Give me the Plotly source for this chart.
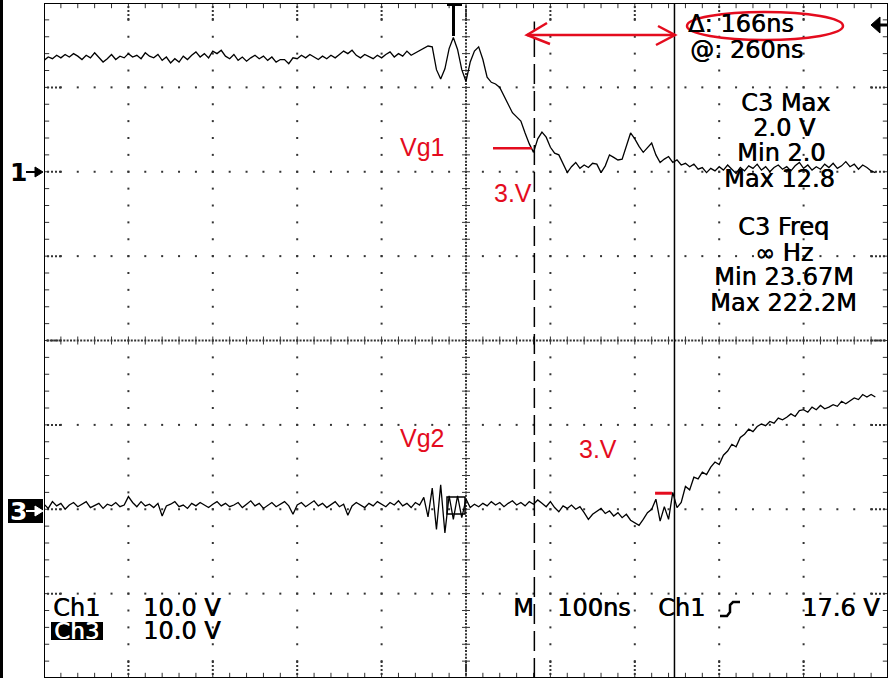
import plotly.graph_objects as go

# screenshot size and where the scope graticule sits in it (pixels)
W, H = 892, 678
GX0, GX1 = 44, 888
GY0, GY1 = 3, 678

# 10 x 8 divisions, 100 ns/div, 10 V/div on both channels
NS_PER_DIV = 100
V_PER_DIV = 10
CH1_ZERO_DIV = 2
CH3_ZERO_DIV = -2

TIME_NS = list(range(0, 990, 5))

CH1_V = [
    13.2, 13.6, 13.4, 13.8, 13.5, 13.9, 13.6, 14.0, 13.7, 13.3,
    13.8, 13.5, 14.1, 13.6, 13.0, 13.4, 13.9, 13.3, 13.7, 13.5,
    14.0, 13.6, 13.8, 13.4, 14.1, 13.7, 13.5, 13.9, 13.2, 13.6,
    12.9, 13.4, 13.0, 13.7, 13.3, 13.8, 14.2, 13.6, 14.0, 13.5,
    14.3, 14.0, 14.4, 13.7, 13.4, 13.9, 13.2, 13.6, 13.1, 13.5,
    13.8, 13.4, 13.7, 13.2, 13.6, 13.0, 13.3, 13.3, 12.8, 13.5,
    13.4, 13.8, 13.5, 13.9, 13.6, 13.3, 13.7, 13.4, 13.8, 13.5,
    13.9, 14.3, 14.0, 14.4, 13.8, 13.5, 13.9, 13.6, 13.4, 13.8,
    13.5, 13.9, 14.2, 13.6, 14.0, 13.7, 14.3, 13.8, 14.1, 14.4,
    14.6, 14.9, 14.8, 12.1, 11.0, 12.2, 14.6, 15.9, 14.5, 12.1,
    10.7, 13.0, 14.3, 14.8, 13.3, 11.2, 10.6, 10.4, 10.0, 9.0,
    8.0, 7.0, 6.5, 6.0, 4.6, 3.3, 2.3, 3.9, 4.7, 4.1,
    2.9, 2.2, 2.0, 1.0, -0.1, 0.6, 1.1, 0.4, 0.8, 0.5,
    1.0, 0.9, -0.1, 0.7, 2.0, 1.7, 1.4, 1.5, 3.0, 4.6,
    3.9, 3.0, 2.3, 2.9, 3.4, 2.0, 1.1, 1.5, 1.8, 1.1,
    1.4, 0.8, 1.0, 0.6, 0.9, 0.3, 0.5, -0.1, 0.4, 0.1,
    0.6, 0.2, 0.8, 0.3, -0.2, 0.5, 0.1, 0.7, 0.4, 0.9,
    0.2, 0.6, 0.0, 0.5, 0.8, 0.3, 0.6, 0.1, 0.7, 1.1,
    0.4, 0.8, 0.2, 0.6, 0.3, 0.9, 0.5, 1.0, 0.4, 0.7,
    1.2, 0.6, 0.9, 0.3, 0.8, 0.5, 0.1, -0.1,
]

CH3_V = [
    0.6, 0.1, 0.9, 0.4, 0.7, 0.0, 0.5, 0.8, 0.3, 0.6,
    0.9, 0.2, 0.5, 0.7, 0.1, 0.6, 0.4, 0.8, 0.3, 0.5,
    1.5, 0.8, 0.3, 0.9, 0.4, 0.6, 0.2, 0.7, -0.8, 0.4,
    0.6, 0.9, 0.3, 0.5, 0.1, 0.7, 0.4, 0.8, 0.5, 0.2,
    0.6, 0.9, 0.4, 0.7, 0.3, 0.5, 0.8, 0.2, 0.6, 1.0,
    0.4, 0.7, 0.1, 0.5, 0.8, 0.3, 0.6, 0.9, 0.4, -0.6,
    0.5, 0.8, 0.3, 0.6, 1.0, 0.4, 0.7, 0.2, 0.5, 0.9,
    0.3, 0.6, -0.7, 0.4, 0.8, 0.5, 0.2, 0.7, 0.4, 0.9,
    0.6, 0.3, 0.8, 0.5, 1.0, 0.4, 0.7, 0.2, 0.8, 0.5,
    1.4, -0.9, 2.5, -2.4, 2.9, -2.8, 1.6, -1.2, 1.6, -1.0,
    1.2, 0.2, 0.6, 0.3, 0.7, 0.4, 0.9, 0.5, 0.8, 0.3,
    0.7, 1.0, 0.5, 0.8, 0.4, 0.9, 0.6, 1.1, 0.7, 0.3,
    0.9, 0.2, -0.3, 0.4, 0.1, 0.5, 0.0, 0.3, -0.4, -1.2,
    -0.6, -0.2, 0.1, -0.5, -0.2, -0.8, -0.4, -1.0, -0.6, -1.3,
    -1.6, -1.9, -1.2, -0.4, 0.0, 1.2, -1.4, 0.3, -1.2, 2.0,
    0.2, 0.8, 2.7, 2.3, 3.8, 3.6, 4.4, 4.1, 5.0, 5.6,
    5.3, 6.4, 6.9, 7.7, 7.4, 8.5, 8.9, 9.5, 9.2, 9.8,
    10.1, 9.9, 10.4, 10.2, 10.8, 10.6, 10.9, 11.3, 11.0, 11.7,
    11.8, 11.5, 12.1, 11.8, 12.3, 11.9, 12.1, 12.4, 12.2, 12.8,
    12.5, 12.9, 13.2, 13.0, 13.6, 13.3, 13.6, 13.3,
]

CURSOR_A_NS = 581
CURSOR_B_NS = 747
MARK_CH1_V, MARK_CH1_NS = 2.8, (532, 578)
MARK_CH3_V, MARK_CH3_NS = 1.9, (724, 744)

READOUT = [  # text, x px, y px, anchor
    ("Δ: 166ns", 686, 24, "left"),
    ("@: 260ns", 688, 50, "left"),
    ("C3 Max", 785, 103, "center"),
    ("2.0 V", 784, 128, "center"),
    ("Min 2.0", 781, 153, "center"),
    ("Max 12.8", 779, 179, "center"),
    ("C3 Freq", 783, 227, "center"),
    ("∞ Hz", 784, 253, "center"),
    ("Min 23.67M", 784, 277, "center"),
    ("Max 222.2M", 783, 303, "center"),
    ("Ch1", 51, 608, "left"),
    ("10.0 V", 141, 608, "left"),
    ("10.0 V", 141, 631, "left"),
    ("M", 511, 608, "left"),
    ("100ns", 555, 608, "left"),
    ("Ch1", 656, 608, "left"),
    ("17.6 V", 882, 608, "right"),
]
RED_LABELS = [("Vg1", 398, 147), ("3.V", 492, 193), ("Vg2", 398, 438), ("3.V", 577, 449)]
CHANNEL_MARKS = [("1", 172, "black"), ("3", 511, "white")]

RED = "rgb(228,12,30)"
PXNS = (GX1 - GX0) / (10 * NS_PER_DIV)
PXDIV = (GY1 - GY0) / 8


def px(x):
    return x / W


def py(y):
    return 1 - y / H


def path(points):
    return "M " + " L ".join(f"{px(a):.5f} {py(b):.5f}" for a, b in points)


# graticule dots and ticks
dot_x, dot_y = [], []
for i in range(1, 10):
    if i == 5:
        continue
    for k in range(41):
        dot_x.append(i * NS_PER_DIV)
        dot_y.append(-4 + k * 0.2)
for j in range(-3, 4):
    if j == 0:
        continue
    for k in range(51):
        dot_x.append(k * 20)
        dot_y.append(j)
for k in range(251):
    dot_x.append(k * 4)
    dot_y.append(0)
for k in range(201):
    dot_x.append(500)
    dot_y.append(-4 + k * 0.04)
for j in range(-3, 4):
    for d in (4, 8, 12, 16):
        dot_x += [d / PXNS, 1000 - d / PXNS]
        dot_y += [j, j]
for i in range(1, 10):
    for d in (4, 8, 12, 16):
        dot_x += [i * NS_PER_DIV, i * NS_PER_DIV]
        dot_y += [4 - d / PXDIV, -4 + d / PXDIV]

tx, ty = [], []
ex, ey = 4 / PXNS, 4 / PXDIV
for k in range(51):
    x = k * 20
    tx += [x, x, None, x, x, None, x, x, None]
    ty += [-ey, ey, None, 4, 4 - 1.3 * ey, None, -4, -4 + 1.3 * ey, None]
for k in range(41):
    y = -4 + k * 0.2
    tx += [500 - ex, 500 + ex, None, 0, 1.3 * ex, None, 1000, 1000 - 1.3 * ex, None]
    ty += [y, y, None, y, y, None, y, y, None]

fig = go.Figure()
fig.add_trace(go.Scatter(x=dot_x, y=dot_y, mode="markers", hoverinfo="skip",
                         marker=dict(symbol="square", size=2, color="#333333")))
fig.add_trace(go.Scatter(x=tx, y=ty, mode="lines", hoverinfo="skip",
                         line=dict(color="#333333", width=1)))

ch1 = [CH1_ZERO_DIV + v / V_PER_DIV for v in CH1_V]
ch3 = [CH3_ZERO_DIV + v / V_PER_DIV for v in CH3_V]
fig.add_trace(go.Scatter(x=TIME_NS, y=ch1, mode="lines", name="Ch1",
                         line=dict(color="black", width=1.3)))
fig.add_trace(go.Scatter(x=TIME_NS, y=ch3, mode="lines", name="Ch3",
                         line=dict(color="black", width=1.3)))

shapes = [
    # graticule frame, screen edge
    dict(type="rect", xref="x", yref="y", x0=0, x1=1000, y0=-4, y1=4,
         line=dict(color="black", width=2)),
    dict(type="rect", xref="paper", yref="paper", x0=0, x1=px(3), y0=0, y1=1,
         fillcolor="black", line=dict(width=0)),
    # cursors
    dict(type="line", xref="x", yref="y", x0=CURSOR_A_NS, x1=CURSOR_A_NS, y0=-4, y1=3.78,
         line=dict(color="black", width=1.5, dash="20px,7px")),
    dict(type="line", xref="x", yref="y", x0=CURSOR_B_NS, x1=CURSOR_B_NS, y0=-4, y1=4,
         line=dict(color="black", width=1.5)),
    # trigger position T and trigger level arrow
    dict(type="line", xref="paper", yref="paper", x0=px(447), x1=px(462), y0=py(4.5), y1=py(4.5),
         line=dict(color="black", width=3)),
    dict(type="line", xref="paper", yref="paper", x0=px(453.5), x1=px(453.5), y0=py(3), y1=py(36),
         line=dict(color="black", width=3)),
    dict(type="path", xref="paper", yref="paper", path=path([(871, 25), (880, 17), (880, 33)]) + " Z",
         fillcolor="black", line=dict(color="black", width=1)),
    dict(type="line", xref="paper", yref="paper", x0=px(879), x1=px(888), y0=py(25), y1=py(25),
         line=dict(color="black", width=3)),
    # little box the Ch3 glitch leaves on screen
    dict(type="rect", xref="paper", yref="paper", x0=px(447), x1=px(465), y0=py(514), y1=py(497),
         line=dict(color="black", width=1.5)),
    # rising edge symbol
    dict(type="path", xref="paper", yref="paper",
         path=path([(720, 616), (727, 616), (730, 612), (730, 605), (733, 602), (740, 602)]),
         line=dict(color="black", width=2.5)),
    # inverse video boxes
    dict(type="rect", xref="paper", yref="paper", x0=px(8), x1=px(43), y0=py(523), y1=py(499),
         fillcolor="black", line=dict(width=0)),
    dict(type="rect", xref="paper", yref="paper", x0=px(51), x1=px(103), y0=py(640), y1=py(622),
         fillcolor="black", line=dict(width=0)),
    # red markup
    dict(type="line", xref="x", yref="y", x0=MARK_CH1_NS[0], x1=MARK_CH1_NS[1],
         y0=CH1_ZERO_DIV + MARK_CH1_V / V_PER_DIV, y1=CH1_ZERO_DIV + MARK_CH1_V / V_PER_DIV,
         line=dict(color=RED, width=2.5)),
    dict(type="line", xref="x", yref="y", x0=MARK_CH3_NS[0], x1=MARK_CH3_NS[1],
         y0=CH3_ZERO_DIV + MARK_CH3_V / V_PER_DIV, y1=CH3_ZERO_DIV + MARK_CH3_V / V_PER_DIV,
         line=dict(color=RED, width=3)),
    dict(type="path", xref="paper", yref="paper", path=path([(527, 35), (675, 35)]),
         line=dict(color=RED, width=2.5)),
    dict(type="path", xref="paper", yref="paper", path=path([(547, 23), (527, 35), (550, 44)]),
         line=dict(color=RED, width=2.5)),
    dict(type="path", xref="paper", yref="paper", path=path([(658, 26), (675, 35), (656, 45)]),
         line=dict(color=RED, width=2.5)),
    dict(type="circle", xref="paper", yref="paper", x0=px(687), x1=px(843), y0=py(40), y1=py(12),
         line=dict(color=RED, width=2.5)),
]

annotations = []
# channel ground markers: digit plus small arrow
for label, y, colour in CHANNEL_MARKS:
    shapes.append(dict(type="line", xref="paper", yref="paper", x0=px(26), x1=px(37), y0=py(y), y1=py(y),
                       line=dict(color=colour, width=2)))
    shapes.append(dict(type="path", xref="paper", yref="paper",
                       path=path([(35, y - 5), (43, y), (35, y + 5)]) + " Z",
                       fillcolor=colour, line=dict(color=colour, width=1)))
    annotations.append(dict(text=label, x=px(18), y=py(y), xref="paper", yref="paper",
                            xanchor="center", yanchor="middle", showarrow=False,
                            font=dict(family="DejaVu Sans", size=25, color=colour, weight="bold")))

scope_font = dict(family="DejaVu Sans", size=24, color="black", shadow="0.6px 0 0 black")
for text, x, y, anchor in READOUT:
    annotations.append(dict(text=text, x=px(x), y=py(y), xref="paper", yref="paper",
                            xanchor=anchor, yanchor="middle", showarrow=False, font=scope_font))
annotations.append(dict(text="Ch3", x=px(52), y=py(631), xref="paper", yref="paper",
                        xanchor="left", yanchor="middle", showarrow=False,
                        font=dict(scope_font, size=23, color="white", shadow="0.6px 0 0 white")))
for text, x, y in RED_LABELS:
    annotations.append(dict(text=text, x=px(x), y=py(y), xref="paper", yref="paper",
                            xanchor="left", yanchor="middle", showarrow=False,
                            font=dict(family="Liberation Sans", size=25, color=RED)))

fig.update_layout(
    width=W, height=H,
    margin=dict(l=0, r=0, t=0, b=0),
    paper_bgcolor="white", plot_bgcolor="white",
    showlegend=False,
    xaxis=dict(visible=False, range=[0, 10 * NS_PER_DIV], domain=[GX0 / W, GX1 / W], fixedrange=True),
    yaxis=dict(visible=False, range=[-4, 4], domain=[1 - GY1 / H, 1 - GY0 / H], fixedrange=True),
    shapes=shapes,
    annotations=annotations,
)

# the page body has a default 8px margin; drop it so the figure fills the window
fig.write_html("out.html", config={"displayModeBar": False},
               post_script="document.body.style.margin='0';document.body.style.overflow='hidden';")
